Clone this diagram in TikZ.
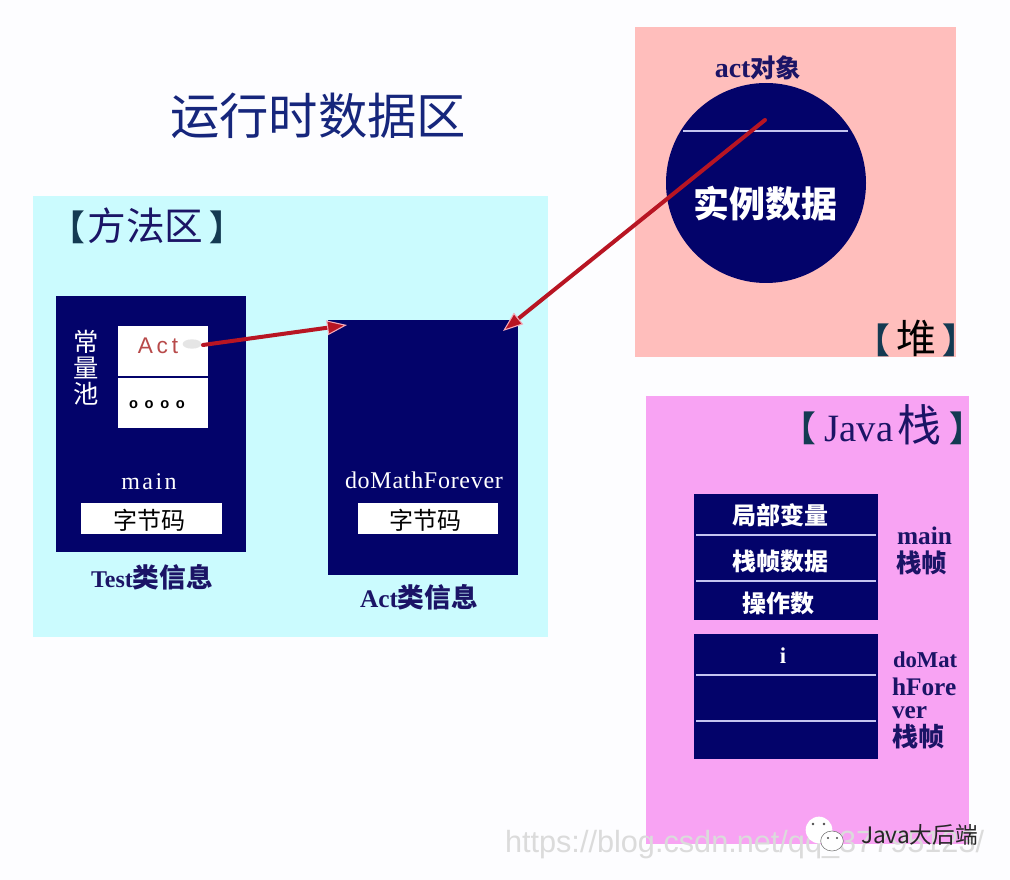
\documentclass[tikz,border=0pt]{standalone}
\usepackage{fontspec}
\setmainfont{Liberation Serif}
\newfontfamily\cjk{Noto Sans CJK SC}
\newcommand{\cjkb}{\cjk\bfseries}
\newfontfamily\lsans{Liberation Sans}
\usetikzlibrary{arrows.meta,shapes.geometric}
\definecolor{navy}{HTML}{03036A}
\definecolor{ink}{HTML}{1B1466}
\definecolor{titleblue}{HTML}{16267C}
\definecolor{brk}{HTML}{143A52}
\definecolor{method}{HTML}{CBFBFE}
\definecolor{heap}{HTML}{FFBEBC}
\definecolor{stack}{HTML}{F8A3F3}
\definecolor{rule}{HTML}{C4C4F0}
\definecolor{redline}{HTML}{B81523}
\definecolor{redtext}{HTML}{B84A4A}
\definecolor{tipedge}{HTML}{F4A8B8}
\newcommand{\lbk}{{\color{brk}\cjkb\fontsize{26}{26}\selectfont 【}}
\newcommand{\rbk}{{\color{brk}\cjkb\fontsize{26}{26}\selectfont 】}}
\newcommand{\fs}[1]{\fontsize{#1}{#1}\selectfont}
\tikzset{
  x=0.75pt,y=-0.75pt,
  area/.style={draw=none,inner sep=0pt,outer sep=0pt,anchor=north west},
  navybox/.style={area,fill=navy},
  cell/.style={area,fill=white,text=black},
  lbl/.style={inner sep=0pt,outer sep=0pt,anchor=center},
  sep/.style={draw=rule,line width=1.5pt},
  ref/.style={draw=redline,line width=3pt,line cap=round,-{Triangle[length=15pt,width=11pt,fill=redline,color=tipedge,line width=0.8pt]}},
}
\begin{document}
\begin{tikzpicture}
\useasboundingbox (0,0) rectangle (1010,880);
\fill[color={rgb,255:red,253;green,253;blue,255}] (0,0) rectangle (1010,880);

% areas
\node[area,fill=method,minimum width=386.25pt,minimum height=330.75pt] (methodarea) at (33,196) {};
\node[area,fill=heap,minimum width=240.75pt,minimum height=247.5pt] (heaparea) at (635,27) {};
\node[area,fill=stack,minimum width=242.25pt,minimum height=336pt] (stackarea) at (646,396) {};

% title and area labels
\node[lbl,text=titleblue,font=\cjk\fs{37}] (title) at (318,116) {运行时数据区};
\node[lbl,text=ink,font=\cjk\fs{29}] (methodlabel) at (147.5,226) {\lbk\kern1.5pt 方法区\kern4.5pt\rbk};
\node[lbl,text=black,font=\cjk\fs{30}] (heaplabel) at (916,338) {\lbk\kern4.5pt 堆\kern4.5pt\rbk};
\node[lbl,text=ink,font=\cjk\fs{33}] (stacklabel) at (883,425) {\lbk\kern6pt{\rmfamily\fs{29}Java}\kern3pt 栈\kern6pt\rbk};

% Test class info
\node[navybox,minimum width=142.5pt,minimum height=192pt] (testinfo) at (56,296) {};
\node[cell,minimum width=67.5pt,minimum height=37.5pt] (actcell) at (118,326) {};
\node[cell,minimum width=67.5pt,minimum height=37.5pt] (dotcell) at (118,378) {};
\node[ellipse,fill=black!10,minimum width=14pt,minimum height=7pt,inner sep=0pt] (smudge) at (192,344) {};
\node[lbl,text=redtext,font=\lsans\fs{17}] (acttext) at (158,346) {A\,c\,t};
\node[lbl,text=black,font=\lsans\bfseries\fs{11}] (dots) at (157,405) {o\kern5pt o\kern5pt o\kern5pt o};
\node[lbl,text=white,font=\cjk\fontsize{19}{19.5}\selectfont,align=center] (pool) at (86,368) {常\\量\\池};
\node[lbl,text=white,font=\fs{18}\addfontfeature{LetterSpace=10}] (mainname) at (149,482) {main};
\node[cell,minimum width=105.75pt,minimum height=23.25pt] (code1) at (81,503) {};
\node[lbl,text=black,font=\cjk\fs{18}] (code1t) at (149,520) {字节码};
\node[lbl,text=ink,font=\bfseries\fs{18}] (testcap) at (152,577) {Test{\cjkb\fs{20}类信息}};

% Act class info
\node[navybox,minimum width=142.5pt,minimum height=191.25pt] (actinfo) at (328,320) {};
\node[lbl,text=white,font=\fs{18}\addfontfeature{LetterSpace=3}] (forever) at (424,480) {doMathForever};
\node[cell,minimum width=105pt,minimum height=23.25pt] (code2) at (358,503) {};
\node[lbl,text=black,font=\cjk\fs{18}] (code2t) at (425,520) {字节码};
\node[lbl,text=ink,font=\bfseries\fs{19}] (actcap) at (419,597) {Act{\cjkb\fs{20}类信息}};

% heap object
\node[lbl,text=ink,font=\bfseries\fs{21}] (objcap) at (758,68) {act{\cjkb\fs{19}对象}};
\node[circle,fill=navy,minimum size=150pt,inner sep=0pt,outer sep=0pt] (obj) at (766,183) {};
\coordinate (objL) at (683,131);
\coordinate (objR) at (848,131);
\draw[sep] (objL) -- (objR);
\node[lbl,text=white,font=\cjkb\fs{27}] (objdata) at (765,204) {实例数据};

% stack frames
\node[navybox,minimum width=138pt,minimum height=94.5pt] (frame1) at (694,494) {};
\node[navybox,minimum width=138pt,minimum height=93.75pt] (frame2) at (694,634) {};
\coordinate (f1aL) at (696,535); \coordinate (f1aR) at (876,535);
\coordinate (f1bL) at (696,581); \coordinate (f1bR) at (876,581);
\coordinate (f2aL) at (696,675); \coordinate (f2aR) at (876,675);
\coordinate (f2bL) at (696,721); \coordinate (f2bR) at (876,721);
\draw[sep] (f1aL) -- (f1aR);
\draw[sep] (f1bL) -- (f1bR);
\draw[sep] (f2aL) -- (f2aR);
\draw[sep] (f2bL) -- (f2bR);
\node[lbl,text=white,font=\cjkb\fs{18}] (locals) at (780,515) {局部变量};
\node[lbl,text=white,font=\cjkb\fs{18}] (framedata) at (780,561) {栈帧数据};
\node[lbl,text=white,font=\cjkb\fs{18}] (operands) at (778,603) {操作数};
\node[lbl,text=white,font=\bfseries\fs{17}] (ivar) at (783,656) {i};
\node[lbl,anchor=west,text=ink,font=\bfseries\fs{19}] (m1) at (897,536) {main};
\node[lbl,anchor=west,text=ink,font=\cjkb\fs{19}] (m2) at (896,563) {栈帧};
\node[lbl,anchor=west,text=ink,font=\bfseries\fs{17}] (d1) at (893,660) {doMat};
\node[lbl,anchor=west,text=ink,font=\bfseries\fs{19}] (d2) at (892,687) {hFore};
\node[lbl,anchor=west,text=ink,font=\bfseries\fs{19}] (d3) at (892,713) {ver};
\node[lbl,anchor=west,text=ink,font=\cjkb\fs{19.5}] (d4) at (892,737) {栈帧};

% references
\coordinate (actstart) at (203,345);
\coordinate (objstart) at (765,120);
\draw[ref] (actstart) -- ([xshift=14.25pt,yshift=-3.75pt]actinfo.north west);
\draw[ref] (objstart) -- ([xshift=-11.25pt,yshift=-8.25pt]actinfo.north east);

% watermark
\node[lbl,anchor=west,text=black!14,font=\lsans\fs{23}] (wm) at (505,845) {https://blog.csdn.net/qq\_37795123/};
\node[ellipse,fill=white,minimum width=20pt,minimum height=20pt,inner sep=0pt] (wechatA) at (819,830) {};
\node[ellipse,fill=white,draw=black!55,line width=0.4pt,minimum width=17pt,minimum height=15pt,inner sep=0pt] (wechatB) at (832,841) {};
\fill[black!70] (813,824) circle (1.3) (824,824) circle (1.3) (828,838) circle (1.2) (837,838) circle (1.2);
\node[lbl,anchor=west,text=black!85,font=\cjk\fs{17}] (wmname) at (861,835) {Java大后端};
\end{tikzpicture}
\end{document}
